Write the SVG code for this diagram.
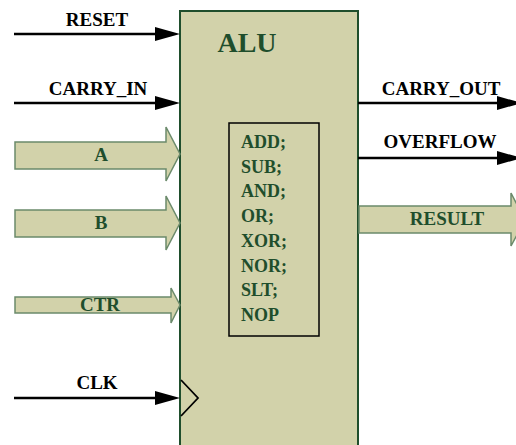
<svg xmlns="http://www.w3.org/2000/svg" width="516" height="445" viewBox="0 0 516 445">
<defs>
<style>
.lbl{font-family:"Liberation Serif","Times New Roman",serif;font-weight:bold;font-size:19px;fill:#000;text-anchor:middle}
.glbl{font-family:"Liberation Serif","Times New Roman",serif;font-weight:bold;font-size:19px;fill:#1f4e2c;text-anchor:middle}
.op{font-family:"Liberation Serif","Times New Roman",serif;font-weight:bold;font-size:18px;fill:#1f4e2c}
.wire{stroke:#000;stroke-width:2.5;fill:none}
.head{fill:#000}
.bus{fill:#d2d2aa;stroke:#6b8a6b;stroke-width:1.5;stroke-linejoin:miter}
</style>
</defs>
<rect width="516" height="445" fill="#fff"/>
<g id="alu">
<rect x="180" y="11" width="178" height="440" fill="#d2d2aa" stroke="#1f4e2c" stroke-width="2"/>
<text x="247" y="52" class="op" style="font-size:28px" text-anchor="middle">ALU</text>
<polyline points="181,380 198,398 181,416" fill="none" stroke="#000" stroke-width="1.8"/>
</g>
<g id="ops">
<rect x="229" y="123" width="90" height="213" fill="none" stroke="#000" stroke-width="1.5"/>
<text x="241" y="148" class="op">ADD;</text>
<text x="241" y="173" class="op">SUB;</text>
<text x="241" y="197" class="op">AND;</text>
<text x="241" y="222" class="op">OR;</text>
<text x="241" y="247" class="op">XOR;</text>
<text x="241" y="272" class="op">NOR;</text>
<text x="241" y="296" class="op">SLT;</text>
<text x="241" y="321" class="op">NOP</text>
</g>
<g id="connectors">
<line class="wire" x1="14" y1="34" x2="160" y2="34"/>
<polygon class="head" points="155,27 180,34 155,41"/>
<line class="wire" x1="14" y1="103" x2="160" y2="103"/>
<polygon class="head" points="155,96 180,103 155,110"/>
<line class="wire" x1="14" y1="398" x2="160" y2="398"/>
<polygon class="head" points="155,391 180,398 155,405"/>
<line class="wire" x1="358" y1="103" x2="500" y2="103"/>
<polygon class="head" points="497,96 522,103 497,110"/>
<line class="wire" x1="358" y1="158" x2="500" y2="158"/>
<polygon class="head" points="497,151 522,158 497,165"/>
<polygon class="bus" points="15,142 166,142 166,127 180,154 166,181 166,169 15,169"/>
<polygon class="bus" points="15,210 166,210 166,196 180,223 166,250 166,237 15,237"/>
<polygon class="bus" points="15,297 171,297 171,288 180,305 171,323 171,313 15,313"/>
<polygon class="bus" points="359,206 511,206 511,193 525,220 511,246 511,233 359,233"/>
</g>
<g id="labels">
<text x="97" y="26" class="lbl">RESET</text>
<text x="98" y="95" class="lbl">CARRY_IN</text>
<text x="97" y="389" class="lbl">CLK</text>
<text x="441" y="95" class="lbl">CARRY_OUT</text>
<text x="440" y="148" class="lbl">OVERFLOW</text>
<text x="101" y="161" class="glbl">A</text>
<text x="101" y="229" class="glbl">B</text>
<text x="100" y="311" class="glbl">CTR</text>
<text x="447" y="225" class="glbl">RESULT</text>
</g>
</svg>
